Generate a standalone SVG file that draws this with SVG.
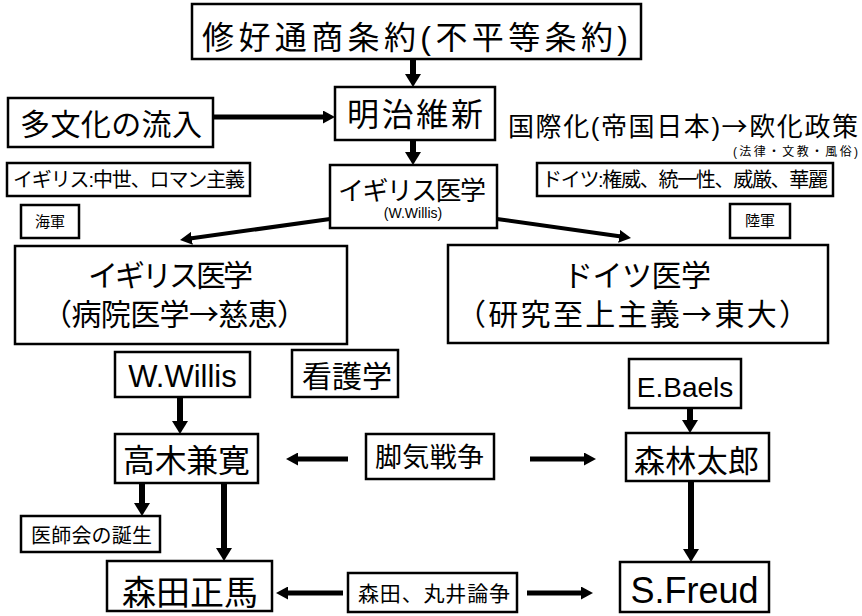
<svg xmlns="http://www.w3.org/2000/svg" width="862" height="616" viewBox="0 0 862 616">
<style>
.b{fill:#fff;stroke:#000;stroke-width:2.5}
.t{font-family:"Liberation Sans","Noto Sans CJK JP",sans-serif;fill:#000}
.j{font-family:"Noto Sans CJK JP",sans-serif}
.c{stroke:#000;fill:none}
</style>
<defs>
<marker id="big" viewBox="0 0 13 16" markerWidth="13" markerHeight="16" refX="3" refY="8" markerUnits="userSpaceOnUse" orient="auto"><path d="M0,0 L13,8 L0,16 z" fill="#000"/></marker>
<marker id="sm" viewBox="0 0 12 13" markerWidth="12" markerHeight="13" refX="2" refY="6.5" markerUnits="userSpaceOnUse" orient="auto"><path d="M0,0 L12,6.5 L0,13 z" fill="#000"/></marker>
</defs>
<rect width="862" height="616" fill="#fff"/>
<g id="connectors">
<line class="c" x1="413" y1="59" x2="413" y2="77" stroke-width="6" marker-end="url(#big)"/>
<line class="c" x1="213" y1="117" x2="325" y2="117" stroke-width="5" marker-end="url(#sm)"/>
<line class="c" x1="413" y1="140" x2="413" y2="155" stroke-width="6" marker-end="url(#big)"/>
<line class="c" x1="330" y1="219" x2="189.9" y2="238.6" stroke-width="4" marker-end="url(#sm)"/>
<line class="c" x1="497" y1="219" x2="621.1" y2="236.6" stroke-width="4" marker-end="url(#sm)"/>
<line class="c" x1="180" y1="397" x2="180" y2="424" stroke-width="6" marker-end="url(#big)"/>
<line class="c" x1="690" y1="408" x2="690" y2="423" stroke-width="6" marker-end="url(#big)"/>
<line class="c" x1="348" y1="459" x2="296" y2="459" stroke-width="5" marker-end="url(#sm)"/>
<line class="c" x1="530" y1="459" x2="586" y2="459" stroke-width="5" marker-end="url(#sm)"/>
<line class="c" x1="142" y1="483" x2="142" y2="506" stroke-width="6" marker-end="url(#big)"/>
<line class="c" x1="224" y1="483" x2="224" y2="551" stroke-width="6" marker-end="url(#big)"/>
<line class="c" x1="691" y1="481" x2="691" y2="552" stroke-width="6" marker-end="url(#big)"/>
<line class="c" x1="343" y1="593" x2="286" y2="593" stroke-width="5" marker-end="url(#sm)"/>
<line class="c" x1="527" y1="593" x2="583" y2="593" stroke-width="5" marker-end="url(#sm)"/>
</g>
<g id="treaty"><rect class="b" x="192" y="4" width="449" height="55"/><text class="t" x="202" y="48.5" font-size="32" textLength="426" lengthAdjust="spacing">修好通商条約(不平等条約)</text></g>
<g id="tabunka"><rect class="b" x="8" y="98" width="205" height="49"/><text class="t" x="20" y="135" font-size="30" textLength="182" lengthAdjust="spacing">多文化の流入</text></g>
<g id="meiji"><rect class="b" x="335" y="87" width="160" height="53"/><text class="t" x="347" y="126" font-size="32" textLength="136" lengthAdjust="spacing">明治維新</text></g>
<g id="kokusai"><text class="t" x="508" y="136" font-size="26" textLength="350" lengthAdjust="spacing">国際化(帝国日本)<tspan class="j">→</tspan>欧化政策</text><text class="t" x="733" y="156" font-size="12" textLength="125" lengthAdjust="spacing">(法律・文教・風俗)</text></g>
<g id="uk-note"><rect class="b" x="7" y="163" width="243" height="33"/><text class="t" x="13" y="187" font-size="20" textLength="232" lengthAdjust="spacing">イギリス:中世、ロマン主義</text></g>
<g id="de-note"><rect class="b" x="537" y="163" width="296" height="33"/><text class="t" x="542" y="187" font-size="20" textLength="286" lengthAdjust="spacing">ドイツ:権威、統一性、威厳、華麗</text></g>
<g id="kaigun"><rect class="b" x="21" y="205" width="58" height="33"/><text class="t" x="50" y="227" font-size="15" text-anchor="middle">海軍</text></g>
<g id="rikugun"><rect class="b" x="730" y="204" width="60" height="34"/><text class="t" x="760" y="226" font-size="15" text-anchor="middle">陸軍</text></g>
<g id="uk-med-small"><rect class="b" x="330" y="165" width="167" height="63"/><text class="t" x="338" y="200" font-size="26" textLength="148" lengthAdjust="spacing">イギリス医学</text><text class="t" x="413" y="218" font-size="14" text-anchor="middle">(W.Willis)</text></g>
<g id="uk-med"><rect class="b" x="15" y="246" width="332" height="98"/><text class="t" x="88" y="286" font-size="30" textLength="165" lengthAdjust="spacing">イギリス医学</text><text class="t j" x="42" y="325" font-size="30" textLength="265" lengthAdjust="spacing">（病院医学→慈恵）</text></g>
<g id="de-med"><rect class="b" x="448" y="245" width="380" height="98"/><text class="t" x="563" y="286" font-size="30" textLength="148" lengthAdjust="spacing">ドイツ医学</text><text class="t j" x="456" y="325" font-size="30" textLength="353" lengthAdjust="spacing">（研究至上主義→東大）</text></g>
<g id="willis"><rect class="b" x="115" y="352" width="135" height="45"/><text class="t" x="182.5" y="387" font-size="31" text-anchor="middle">W.Willis</text></g>
<g id="kango"><rect class="b" x="292" y="350" width="106" height="47"/><text class="t" x="302" y="387" font-size="30" textLength="90" lengthAdjust="spacing">看護学</text></g>
<g id="baels"><rect class="b" x="629" y="359" width="112" height="49"/><text class="t" x="685" y="397" font-size="28" text-anchor="middle">E.Baels</text></g>
<g id="takaki"><rect class="b" x="115" y="434" width="143" height="49"/><text class="t" x="123" y="472" font-size="32" textLength="127" lengthAdjust="spacing">高木兼寛</text></g>
<g id="kakke"><rect class="b" x="366" y="434" width="128" height="45"/><text class="t" x="375" y="467" font-size="27" textLength="109" lengthAdjust="spacing">脚気戦争</text></g>
<g id="mori"><rect class="b" x="626" y="433" width="143" height="48"/><text class="t" x="634" y="472" font-size="31" textLength="125" lengthAdjust="spacing">森林太郎</text></g>
<g id="ishikai"><rect class="b" x="21" y="516" width="139" height="36"/><text class="t" x="31" y="543" font-size="20" textLength="121" lengthAdjust="spacing">医師会の誕生</text></g>
<g id="morita"><rect class="b" x="107" y="561" width="165" height="50"/><text class="t" x="122" y="605" font-size="34" textLength="136" lengthAdjust="spacing">森田正馬</text></g>
<g id="ronso"><rect class="b" x="348" y="573" width="169" height="39"/><text class="t" x="358" y="601" font-size="21" textLength="152" lengthAdjust="spacing">森田、丸井論争</text></g>
<g id="freud"><rect class="b" x="620" y="562" width="149" height="50"/><text class="t" x="694.5" y="603" font-size="36" text-anchor="middle">S.Freud</text></g>
</svg>
